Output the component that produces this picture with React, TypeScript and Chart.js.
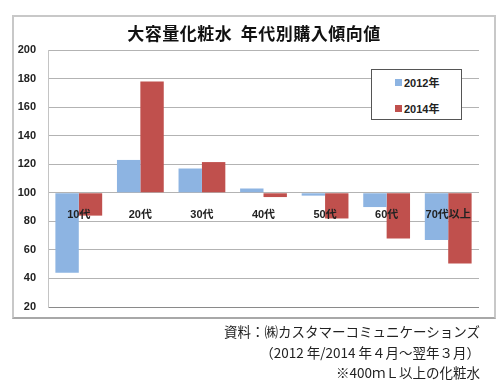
import React, { useEffect, useRef } from "react";
import { Chart, registerables } from "chart.js";

Chart.register(...registerables);

const categories = ["10代", "20代", "30代", "40代", "50代", "60代", "70代以上"];
const values2012 = [44, 123, 117, 103, 98, 90, 67];
const values2014 = [84, 178, 121.5, 97, 82, 68, 50.5];
const seriesLabels = ["2012年", "2014年"];
const seriesColors = ["#8DB4E2", "#C0504D"];
const baseValue = 100;
const yMin = 20;
const yMax = 200;
const yStep = 20;
const titleText = "大容量化粧水  年代別購入傾向値";
const noteLines = [
  "資料：㈱カスタマーコミュニケーションズ",
  "（2012 年/2014 年４月～翌年３月）",
  "※400ｍＬ以上の化粧水",
];

const FONT = "'Liberation Sans', 'Noto Sans CJK JP', sans-serif";
const CJK = "'Noto Sans CJK JP', sans-serif";

export default function App() {
  const canvasRef = useRef<HTMLCanvasElement | null>(null);

  useEffect(() => {
    if (!canvasRef.current) return;
    const chart = new Chart(canvasRef.current, {
      type: "bar",
      data: {
        labels: categories,
        datasets: [values2012, values2014].map((vals, i) => ({
          label: seriesLabels[i],
          data: vals,
          backgroundColor: seriesColors[i],
          base: baseValue,
          categoryPercentage: 0.76,
          barPercentage: 1,
        })),
      },
      options: {
        responsive: false,
        maintainAspectRatio: false,
        animation: false,
        layout: { padding: { left: 12, top: 50, right: 22, bottom: 77 } },
        plugins: {
          legend: { display: false },
          title: { display: false },
          tooltip: { enabled: false },
        },
        scales: {
          x: {
            position: { y: baseValue } as any,
            grid: { display: false },
            border: { display: false },
            ticks: {
              z: 1,
              padding: 8,
              autoSkip: false,
              maxRotation: 0,
              color: "#222",
              font: { family: FONT, size: 11, weight: "bold" },
            },
          },
          y: {
            min: yMin,
            max: yMax,
            ticks: {
              stepSize: yStep,
              padding: 12,
              color: "#222",
              font: { family: FONT, size: 11, weight: "bold" },
            },
            grid: {
              drawTicks: false,
              color: (ctx: any) => (ctx.tick && ctx.tick.value === yMin ? "#8a8a8a" : "#b3b3b3"),
            },
            border: { display: true, color: "#c4c4c4" },
            afterFit: (s: any) => {
              s.width = 36;
            },
          },
        },
      },
    });
    return () => chart.destroy();
  }, []);

  return (
    <div style={{ position: "absolute", left: 0, top: 0, width: 501, height: 384, background: "#fff", overflow: "hidden" }}>
      <div
        style={{
          position: "absolute",
          left: 12,
          top: 15,
          width: 484,
          height: 304,
          boxSizing: "border-box",
          border: "2px solid #c8c8c8",
          borderBottomColor: "#a8a8a8",
        }}
      />
      <canvas ref={canvasRef} width={501} height={384} style={{ position: "absolute", left: 0, top: 0 }} />
      <div
        style={{
          position: "absolute",
          left: 254,
          top: 22,
          transform: "translateX(-50%)",
          whiteSpace: "pre",
          fontFamily: CJK,
          fontWeight: "bold",
          fontSize: 17,
          lineHeight: "22px",
          letterSpacing: "0.5px",
          color: "#111",
        }}
      >
        {titleText}
      </div>
      <div
        style={{
          position: "absolute",
          left: 371,
          top: 69,
          width: 91,
          height: 51,
          boxSizing: "border-box",
          border: "1px solid #555",
          background: "#fff",
        }}
      >
        {seriesLabels.map((lab, i) => (
          <div
            key={lab}
            style={{
              position: "absolute",
              left: 23,
              top: 5 + i * 26,
              height: 14,
              display: "flex",
              alignItems: "center",
              fontFamily: FONT,
              fontWeight: "bold",
              fontSize: 11,
              color: "#222",
              whiteSpace: "nowrap",
            }}
          >
            <span style={{ display: "inline-block", width: 7, height: 7, background: seriesColors[i], marginRight: 2 }} />
            {lab}
          </div>
        ))}
      </div>
      {noteLines.map((line, i) => (
        <div
          key={i}
          style={{
            position: "absolute",
            right: 21,
            top: 323 + i * 20.5,
            whiteSpace: "pre",
            fontFamily: CJK,
            fontSize: 13.5,
            lineHeight: "17px",
            color: "#222",
            textAlign: "right",
          }}
        >
          {line}
        </div>
      ))}
    </div>
  );
}
